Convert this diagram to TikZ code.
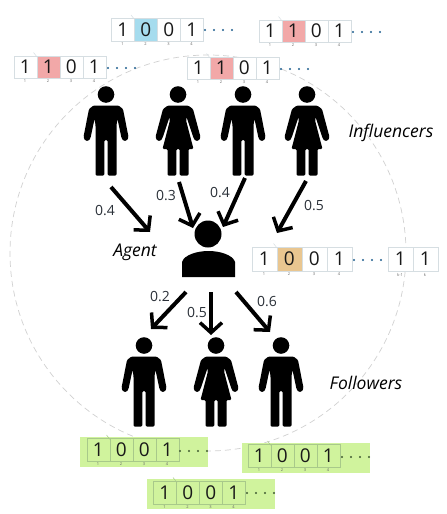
\documentclass[tikz,border=0pt]{standalone}
\usepackage{fontspec}
\setmainfont{Open Sans}
\usetikzlibrary{arrows.meta}
\definecolor{cellline}{HTML}{D6DEE2}
\definecolor{greenline}{HTML}{A8C98A}
\definecolor{greenbg}{HTML}{D0F39D}
\definecolor{hlblue}{HTML}{A6DCEE}
\definecolor{hlpink}{HTML}{F2A8A8}
\definecolor{hltan}{HTML}{E9C690}
\definecolor{dotblue}{HTML}{1F5F8F}
\definecolor{dotgreen}{HTML}{3F5A30}
\definecolor{weighttext}{HTML}{2A3038}
\tikzset{
  x=1pt,y=-1pt,
  figure/.style={fill=black,draw=none,rounded corners=1.2pt},
  bitcell/.style={draw=#1,line width=0.6pt,inner sep=0pt,font=\fontsize{19}{19}\selectfont,text=black!90},
  idx/.style={font=\fontsize{4}{4}\selectfont,text=black!60,inner sep=0pt},
  weight/.style={font=\fontsize{14}{14}\selectfont,text=weighttext,inner sep=0pt},
  grouplabel/.style={font=\itshape\fontsize{17.5}{17.5}\selectfont,text=black,inner sep=0pt},
  ring/.style={draw=black!18,line width=0.7pt,dash pattern=on 6pt off 4pt},
  link/.style={line width=4pt,-{Straight Barb[length=10pt,width=22pt,line width=3.5pt]}},
  greenstrip/.style={fill=greenbg,draw=none},
  manfig/.pic={
    \fill (0,-0.5) circle (8.3pt);
    \path[figure] (0,10.5) -- (12.5,10.5) -- (17,14) -- (22.5,42) -- (21,45.5) -- (17.5,46) -- (15.5,43) -- (11.5,24)
      -- (10.5,30) -- (10.5,80.5) -- (1.7,80.5) -- (1.7,45) -- (-1.7,45) -- (-1.7,80.5) -- (-10.5,80.5) -- (-10.5,30)
      -- (-11.5,24) -- (-15.5,43) -- (-17.5,46) -- (-21,45.5) -- (-22.5,42) -- (-17,14) -- (-12.5,10.5) -- cycle;
  },
  womanfig/.pic={
    \fill (0,-0.5) circle (8.3pt);
    \path[figure] (0,10.5) -- (10,10.5) -- (15,14) -- (22.5,42) -- (21,45.5) -- (17.5,46) -- (15.5,43) -- (8.5,22)
      -- (8.2,26) -- (15.5,54) -- (10.5,54) -- (10.5,80.5) -- (1.7,80.5) -- (1.7,54) -- (-1.7,54) -- (-1.7,80.5)
      -- (-10.5,80.5) -- (-10.5,54) -- (-15.5,54) -- (-8.2,26) -- (-8.5,22) -- (-15.5,43) -- (-17.5,46) -- (-21,45.5)
      -- (-22.5,42) -- (-15,14) -- (-10,10.5) -- cycle;
  },
}
% #1 name, #2 left, #3 top, #4 cell width, #5 cell height, #6 line colour, #7 fill of cell 2, #8 bit in cell 2, #9 fill of other cells
\newcommand{\bitcells}[9]{%
  \foreach \i/\b/\f in {1/1/#9,2/#8/#7,3/0/#9,4/1/#9}{%
    \node[bitcell=#6,fill=\f,minimum width=#4pt,minimum height=#5pt,anchor=north west]
      (#1c\i) at ({#2+(\i-1)*#4},#3) {\b};
    \node[idx] (#1n\i) at ({#2+(\i-0.5)*#4},{#3+#5+3.5}) {\i};
  }%
  \draw[#6,line width=0.5pt] ({#2+#4-3},{#3-3}) -- ({#2+#4+1},{#3+2});
}
\newcommand{\bitdots}[4]{%
  \foreach \i in {0,1,2,3}{\fill[#4] ({#1+\i*9},#2) circle (#3pt);}%
}
\begin{document}
\begin{tikzpicture}
\useasboundingbox (0,0) rectangle (447,514);
\fill[white] (0,0) rectangle (447,514);
\draw[ring] (208,253) circle (198pt);

% persons
\pic at (106,95) {manfig};
\pic at (178,95) {womanfig};
\pic at (243,95) {manfig};
\pic at (307,95) {womanfig};
\pic at (144,346) {manfig};
\pic at (216,346) {womanfig};
\pic at (281,346) {manfig};

% agent
\fill (208,234) circle (13.5pt);
\fill (182,277) -- (182,262) .. controls (184,255) and (197,251) .. (208.5,251)
  .. controls (220,251) and (233,255) .. (235,262) -- (235,277) -- cycle;

% strips above
\bitcells{a}{111}{18}{23}{22.5}{cellline}{hlblue}{0}{white}
\bitdots{205}{30}{1.1}{dotblue}
\bitcells{b}{258.5}{19.5}{23}{22.5}{cellline}{hlpink}{1}{white}
\bitdots{353}{32}{1.1}{dotblue}
\bitcells{c}{13.5}{55.5}{23}{22.5}{cellline}{hlpink}{1}{white}
\bitdots{108}{68}{1.1}{dotblue}
\bitcells{d}{186.5}{56.5}{23}{22.5}{cellline}{hlpink}{1}{white}
\bitdots{281}{69}{1.1}{dotblue}

% agent strip
\bitcells{e}{251.5}{246.5}{25}{24.5}{cellline}{hltan}{0}{white}
\bitdots{354}{260}{1.1}{dotblue}
\node[bitcell=cellline,fill=white,minimum width=25pt,minimum height=24.5pt,anchor=north west] (ek1) at (387.5,246.5) {1};
\node[bitcell=cellline,fill=white,minimum width=25pt,minimum height=24.5pt,anchor=north west] (ek) at (412.5,246.5) {1};
\node[idx] (en1) at (400,275) {k-1};
\node[idx] (en) at (425,275) {k};

% green strips
\fill[greenstrip] (80,437) rectangle (208,467);
\bitcells{f}{86.5}{438}{23}{23}{greenline}{greenbg}{0}{greenbg}
\bitdots{180}{451}{1.1}{dotgreen}
\fill[greenstrip] (241.5,443) rectangle (370,473);
\bitcells{g}{247.5}{444}{23}{23}{greenline}{greenbg}{0}{greenbg}
\bitdots{342}{457}{1.1}{dotgreen}
\fill[greenstrip] (147,479) rectangle (275,509);
\bitcells{h}{153}{480.5}{23}{23}{greenline}{greenbg}{0}{greenbg}
\bitdots{247}{493}{1.1}{dotgreen}

% connector ends
\coordinate (i1) at (111,187); \coordinate (t1) at (150,232);
\coordinate (i2) at (179,182); \coordinate (t2) at (193,228);
\coordinate (i3) at (245,178); \coordinate (t3) at (223,227);
\coordinate (i4) at (306,181); \coordinate (t4) at (277,233);
\coordinate (s1) at (186,292); \coordinate (f1) at (151,329);
\coordinate (s2) at (211,292); \coordinate (f2) at (211,335);
\coordinate (s3) at (236,292); \coordinate (f3) at (270,332);
\draw[link] (i1) -- (t1);
\draw[link] (i2) -- (t2);
\draw[link] (i3) -- (t3);
\draw[link] (i4) -- (t4);
\draw[link] (s1) -- (f1);
\draw[link] (s2) -- (f2);
\draw[link] (s3) -- (f3);

% weights
\node[weight] (w1) at (105,211) {0.4};
\node[weight] (w2) at (166,196) {0.3};
\node[weight] (w3) at (220,193) {0.4};
\node[weight] (w4) at (314,206) {0.5};
\node[weight] (w5) at (160,297) {0.2};
\node[weight] (w6) at (197,313) {0.5};
\node[weight] (w7) at (267,302) {0.6};

% group labels
\node[grouplabel] (lagent) at (135,252) {Agent};
\node[grouplabel] (linf) at (391,133) {Influencers};
\node[grouplabel] (lfol) at (366,383) {Followers};
\end{tikzpicture}
\end{document}
